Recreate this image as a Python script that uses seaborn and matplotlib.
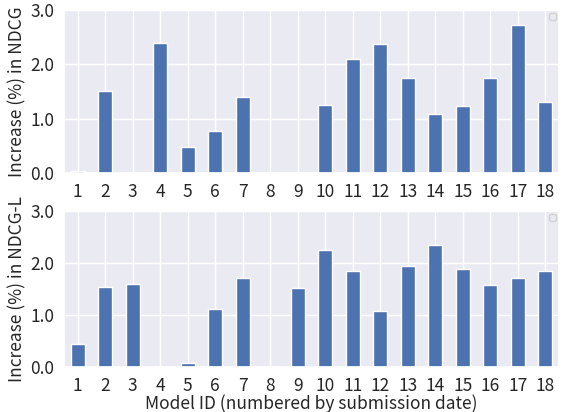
import matplotlib
matplotlib.use("Agg")
import matplotlib.pyplot as plt
import seaborn as sns
import pandas as pd

# --- data ---
model_ids = list(range(1, 19))
ndcg_gain = [0.03, 1.50, 0.0, 2.40, 0.47, 0.77, 1.40, 0.0, 0.0,
             1.25, 2.09, 2.38, 1.75, 1.09, 1.24, 1.74, 2.73, 1.30]
ndcg_l_gain = [0.45, 1.54, 1.60, 0.0, 0.08, 1.12, 1.71, 0.0, 1.53,
               2.25, 1.84, 1.08, 1.95, 2.34, 1.89, 1.57, 1.71, 1.84]
y_ticks = [0.0, 1.0, 2.0, 3.0]

df = pd.DataFrame({"model": model_ids, "ndcg": ndcg_gain, "ndcg_l": ndcg_l_gain})

sns.set_theme(style="darkgrid")
plt.rcParams["font.family"] = ["Noto Sans CJK JP", "DejaVu Sans"]

fig, axes = plt.subplots(2, 1, figsize=(5.65, 4.12), dpi=100,
                         gridspec_kw={"height_ratios": [163, 156]})
fig.subplots_adjust(left=64 / 565, right=559 / 565, top=1 - 10 / 412,
                    bottom=1 - 367 / 412, hspace=0.24)

panels = [("ndcg", "Increase (%) in NDCG"), ("ndcg_l", "Increase (%) in NDCG-L")]
for ax, (col, ylabel) in zip(axes, panels):
    sns.barplot(data=df, x="model", y=col, ax=ax, color="#4C72B0",
                saturation=1, width=0.5)
    ax.set_ylim(0, 3)
    ax.set_yticks(y_ticks)
    ax.set_yticklabels([f"{t:.1f}" for t in y_ticks])
    ax.set_ylabel(ylabel, fontsize=12.5, labelpad=3)
    ax.set_xlabel("")
    ax.tick_params(labelsize=12.5, pad=1)
    ax.xaxis.grid(True)
    ax.set_axisbelow(True)
    ax.legend(loc="upper right", fontsize=6, borderaxespad=0.4)

axes[1].set_xlabel("Model ID (numbered by submission date)", fontsize=12.5, labelpad=0)

plt.savefig("out.png", dpi=100)
